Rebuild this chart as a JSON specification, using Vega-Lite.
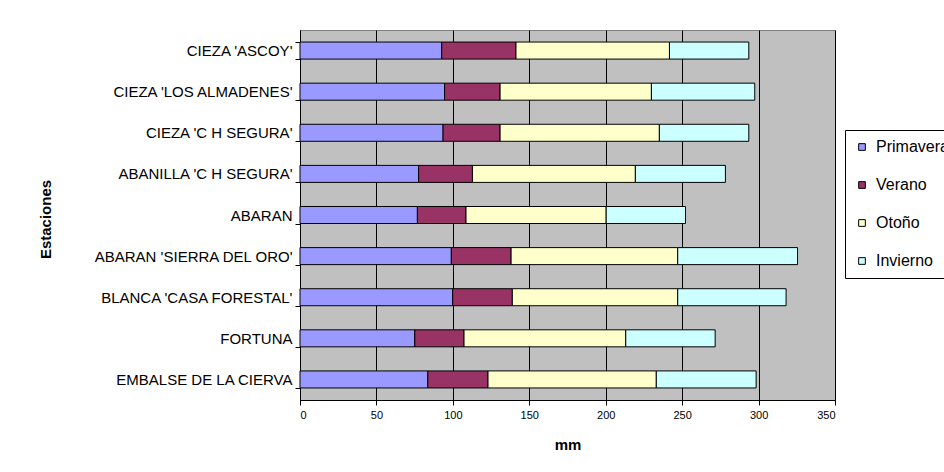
{
  "$schema": "https://vega.github.io/schema/vega-lite/v6.json",
  "width": 535,
  "height": 370,
  "autosize": "none",
  "padding": {"left": 300, "top": 30, "right": 109, "bottom": 72},
  "background": "white",
  "config": {
    "font": "Liberation Sans",
    "view": {"fill": "#C0C0C0", "stroke": "#808080", "strokeWidth": 1}
  },
  "data": {
    "values": [
      {"e": "CIEZA 'ASCOY'", "s": "Primavera", "n": 1, "v": 92.7},
      {"e": "CIEZA 'ASCOY'", "s": "Verano", "n": 2, "v": 48.6},
      {"e": "CIEZA 'ASCOY'", "s": "Otoño", "n": 3, "v": 100.4},
      {"e": "CIEZA 'ASCOY'", "s": "Invierno", "n": 4, "v": 51.9},
      {"e": "CIEZA 'LOS ALMADENES'", "s": "Primavera", "n": 1, "v": 94.6},
      {"e": "CIEZA 'LOS ALMADENES'", "s": "Verano", "n": 2, "v": 36.3},
      {"e": "CIEZA 'LOS ALMADENES'", "s": "Otoño", "n": 3, "v": 99.0},
      {"e": "CIEZA 'LOS ALMADENES'", "s": "Invierno", "n": 4, "v": 67.6},
      {"e": "CIEZA 'C H SEGURA'", "s": "Primavera", "n": 1, "v": 93.6},
      {"e": "CIEZA 'C H SEGURA'", "s": "Verano", "n": 2, "v": 37.3},
      {"e": "CIEZA 'C H SEGURA'", "s": "Otoño", "n": 3, "v": 104.2},
      {"e": "CIEZA 'C H SEGURA'", "s": "Invierno", "n": 4, "v": 58.5},
      {"e": "ABANILLA 'C H SEGURA'", "s": "Primavera", "n": 1, "v": 77.6},
      {"e": "ABANILLA 'C H SEGURA'", "s": "Verano", "n": 2, "v": 35.2},
      {"e": "ABANILLA 'C H SEGURA'", "s": "Otoño", "n": 3, "v": 106.6},
      {"e": "ABANILLA 'C H SEGURA'", "s": "Invierno", "n": 4, "v": 58.9},
      {"e": "ABARAN", "s": "Primavera", "n": 1, "v": 76.8},
      {"e": "ABARAN", "s": "Verano", "n": 2, "v": 31.8},
      {"e": "ABARAN", "s": "Otoño", "n": 3, "v": 91.7},
      {"e": "ABARAN", "s": "Invierno", "n": 4, "v": 51.9},
      {"e": "ABARAN 'SIERRA DEL ORO'", "s": "Primavera", "n": 1, "v": 99.0},
      {"e": "ABARAN 'SIERRA DEL ORO'", "s": "Verano", "n": 2, "v": 39.1},
      {"e": "ABARAN 'SIERRA DEL ORO'", "s": "Otoño", "n": 3, "v": 109.0},
      {"e": "ABARAN 'SIERRA DEL ORO'", "s": "Invierno", "n": 4, "v": 78.4},
      {"e": "BLANCA 'CASA FORESTAL'", "s": "Primavera", "n": 1, "v": 99.9},
      {"e": "BLANCA 'CASA FORESTAL'", "s": "Verano", "n": 2, "v": 39.0},
      {"e": "BLANCA 'CASA FORESTAL'", "s": "Otoño", "n": 3, "v": 108.2},
      {"e": "BLANCA 'CASA FORESTAL'", "s": "Invierno", "n": 4, "v": 70.9},
      {"e": "FORTUNA", "s": "Primavera", "n": 1, "v": 75.1},
      {"e": "FORTUNA", "s": "Verano", "n": 2, "v": 32.2},
      {"e": "FORTUNA", "s": "Otoño", "n": 3, "v": 105.8},
      {"e": "FORTUNA", "s": "Invierno", "n": 4, "v": 58.5},
      {"e": "EMBALSE DE LA CIERVA", "s": "Primavera", "n": 1, "v": 83.6},
      {"e": "EMBALSE DE LA CIERVA", "s": "Verano", "n": 2, "v": 39.4},
      {"e": "EMBALSE DE LA CIERVA", "s": "Otoño", "n": 3, "v": 110.1},
      {"e": "EMBALSE DE LA CIERVA", "s": "Invierno", "n": 4, "v": 65.3}
    ]
  },
  "mark": {"type": "bar", "stroke": "black", "strokeWidth": 1},
  "encoding": {
    "y": {
      "field": "e",
      "type": "nominal",
      "sort": ["CIEZA 'ASCOY'", "CIEZA 'LOS ALMADENES'", "CIEZA 'C H SEGURA'", "ABANILLA 'C H SEGURA'", "ABARAN", "ABARAN 'SIERRA DEL ORO'", "BLANCA 'CASA FORESTAL'", "FORTUNA", "EMBALSE DE LA CIERVA"],
      "title": "Estaciones",
      "scale": {"paddingInner": 0.586, "paddingOuter": 0.293},
      "axis": {
        "tickBand": "extent",
        "grid": false,
        "labelFontSize": 15,
        "labelColor": "black",
        "labelLimit": 300,
        "labelPadding": 3,
        "tickColor": "black",
        "tickSize": 5,
        "domainColor": "black",
        "titleFontSize": 15,
        "titleFontWeight": "bold",
        "titleColor": "black",
        "titleX": -255,
        "titleY": 189,
        "titleAngle": 270,
        "titleAlign": "center",
        "titleBaseline": "middle"
      }
    },
    "x": {
      "field": "v",
      "type": "quantitative",
      "stack": "zero",
      "title": "mm",
      "scale": {"domain": [0, 350], "nice": false},
      "axis": {
        "values": [0, 50, 100, 150, 200, 250, 300, 350],
        "grid": true,
        "gridColor": "black",
        "gridWidth": 1,
        "gridOpacity": 1,
        "labelFontSize": 11,
        "labelColor": "black",
        "labelPadding": 4,
        "tickColor": "black",
        "tickSize": 5,
        "domainColor": "black",
        "titleFontSize": 15,
        "titleFontWeight": "bold",
        "titleColor": "black",
        "titlePadding": 17
      }
    },
    "color": {
      "field": "s",
      "type": "nominal",
      "sort": ["Primavera", "Verano", "Otoño", "Invierno"],
      "scale": {
        "domain": ["Primavera", "Verano", "Otoño", "Invierno"],
        "range": ["#9999FF", "#993366", "#FFFFCC", "#CCFFFF"]
      },
      "legend": {
        "title": null,
        "orient": "none",
        "legendX": 545,
        "legendY": 100,
        "direction": "vertical",
        "padding": 9,
        "rowPadding": 22,
        "strokeColor": "black",
        "fillColor": "white",
        "symbolType": "square",
        "symbolSize": 45,
        "symbolStrokeColor": "black",
        "symbolStrokeWidth": 1,
        "symbolOpacity": 1,
        "labelFontSize": 16,
        "labelColor": "black",
        "labelOffset": 6,
        "labelLimit": 200
      }
    },
    "order": {"field": "n", "type": "quantitative"}
  }
}
